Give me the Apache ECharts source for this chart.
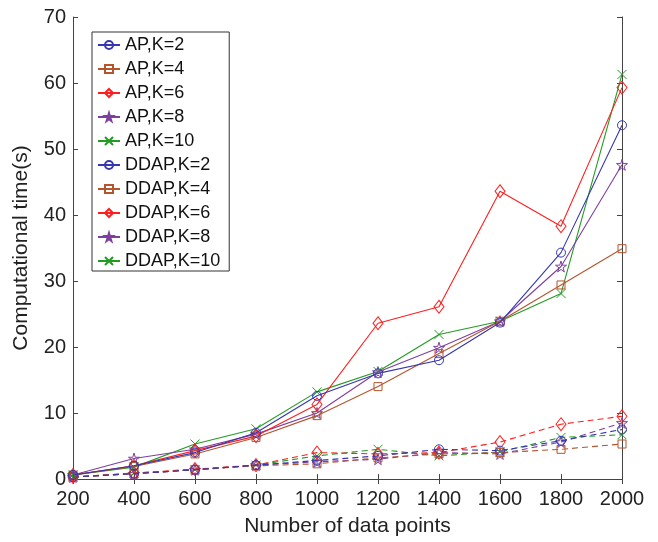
<!DOCTYPE html>
<html><head><meta charset="utf-8">
<script src="https://cdn.jsdelivr.net/npm/echarts@6/dist/echarts.min.js"></script>
<style>html,body{margin:0;padding:0;background:#fff}#c{width:658px;height:542px}</style>
</head><body><div id="c"></div>
<script>
const xValues = [200,400,600,800,1000,1200,1400,1600,1800,2000];
const xTicks = [200,400,600,800,1000,1200,1400,1600,1800,2000];
const yTicks = [0,10,20,30,40,50,60,70];

const AP_K2  = [0.6, 2.0, 4.0, 7.0, 12.6, 16.0, 18.0, 23.7, 34.3, 53.6];
const AP_K4  = [0.6, 1.9, 3.8, 6.3, 9.6, 14.0, 19.0, 23.9, 29.4, 34.9];
const AP_K6  = [0.6, 2.0, 4.3, 6.5, 11.3, 23.6, 26.1, 43.6, 38.3, 59.3];
const AP_K8  = [0.6, 3.1, 4.5, 6.8, 10.0, 16.2, 19.9, 23.9, 32.2, 47.6];
const AP_K10 = [0.6, 1.8, 5.3, 7.6, 13.2, 16.3, 21.9, 23.9, 28.1, 61.3];
const DDAP_K2  = [0.3, 0.8, 1.4, 2.1, 2.8, 3.5, 4.5, 4.3, 5.8, 7.5];
const DDAP_K4  = [0.3, 0.8, 1.4, 2.0, 2.3, 3.2, 3.8, 4.0, 4.5, 5.3];
const DDAP_K6  = [0.3, 0.9, 1.5, 2.1, 4.0, 3.8, 4.0, 5.6, 8.3, 9.5];
const DDAP_K8  = [0.3, 0.8, 1.4, 2.1, 2.6, 3.0, 4.0, 3.8, 5.6, 8.5];
const DDAP_K10 = [0.3, 0.9, 1.4, 2.1, 3.5, 4.5, 3.5, 4.1, 6.3, 6.7];

const names = ['AP,K=2','AP,K=4','AP,K=6','AP,K=8','AP,K=10','DDAP,K=2','DDAP,K=4','DDAP,K=6','DDAP,K=8','DDAP,K=10'];
const datas = [AP_K2,AP_K4,AP_K6,AP_K8,AP_K10,DDAP_K2,DDAP_K4,DDAP_K6,DDAP_K8,DDAP_K10];
const colors = ['#3636b0','#b5552d','#ff1e1e','#7e3fa0','#239b23'];
const STAR = 'path://M50,0 L61,35 L98,35 L68,57 L79,91 L50,70 L21,91 L32,57 L2,35 L39,35 Z';
const XMARK = 'path://M0,0 L10,10 M10,0 L0,10';
const symbols = ['circle','rect','diamond',STAR,XMARK];
const sizes = [[9,9],[8,8],[10,13],[11,11],[9,9]];

const series = names.map((n,i)=>{
  const k = i%5;
  const c = colors[k];
  return {
    name:n, type:'line', xAxisIndex:0, yAxisIndex:0,
    data: xValues.map((x,j)=>[x, datas[i][j]]),
    symbol: symbols[k], symbolSize: sizes[k],
    showAllSymbol:true,
    color:c,
    itemStyle:{color: (k===4? c : 'none'), borderColor:c, borderWidth:1},
    lineStyle:{color:c, width:1.1, type: i<5 ? 'solid':[6,4]},
    emphasis:{disabled:true},
    animation:false,
    z: 10-i
  };
});

const FF = 'Liberation Sans, Arial, sans-serif';
const chart = echarts.init(document.getElementById('c'));
chart.setOption({
  animation:false,
  backgroundColor:'#fff',
  grid:{left:73, right:36, top:17, bottom:62, show:false},
  legend:{
    orient:'vertical', left:92, top:32,
    data:names.map(n=>({name:n, lineStyle:{type:'solid'}})),
    backgroundColor:'#fff', borderColor:'#333', borderWidth:1,
    padding:[4,9,1,5], itemGap:6, itemWidth:22, itemHeight:10,
    textStyle:{fontFamily:FF, fontSize:18, color:'#111'}
  },
  xAxis:[{
    type:'value', min:200, max:2000, interval:200,
    name:'Number of data points', nameLocation:'middle', nameGap:37,
    nameTextStyle:{fontFamily:FF, fontSize:21, color:'#222'},
    axisLine:{show:true, lineStyle:{color:'#444'}},
    axisTick:{inside:true, length:5, lineStyle:{color:'#444'}},
    axisLabel:{margin:10, fontFamily:FF, fontSize:20, color:'#222', formatter:v=>String(v)},
    splitLine:{show:false}
  },{
    type:'value', min:200, max:2000, interval:200, position:'top',
    axisLine:{show:true, lineStyle:{color:'#444'}},
    axisTick:{inside:true, length:5, lineStyle:{color:'#444'}},
    axisLabel:{show:false}, splitLine:{show:false}
  }],
  yAxis:[{
    type:'value', min:0, max:70, interval:10,
    name:'Computational time(s)', nameLocation:'middle', nameGap:41, nameRotate:90,
    nameTextStyle:{fontFamily:FF, fontSize:21, color:'#222'},
    axisLine:{show:true, lineStyle:{color:'#444'}},
    axisTick:{inside:true, length:5, lineStyle:{color:'#444'}},
    axisLabel:{margin:7, fontFamily:FF, fontSize:20, color:'#222'},
    splitLine:{show:false}
  },{
    type:'value', min:0, max:70, interval:10, position:'right',
    axisLine:{show:true, lineStyle:{color:'#444'}},
    axisTick:{inside:true, length:5, lineStyle:{color:'#444'}},
    axisLabel:{show:false}, splitLine:{show:false}
  }],
  series: series
});
</script></body></html>
